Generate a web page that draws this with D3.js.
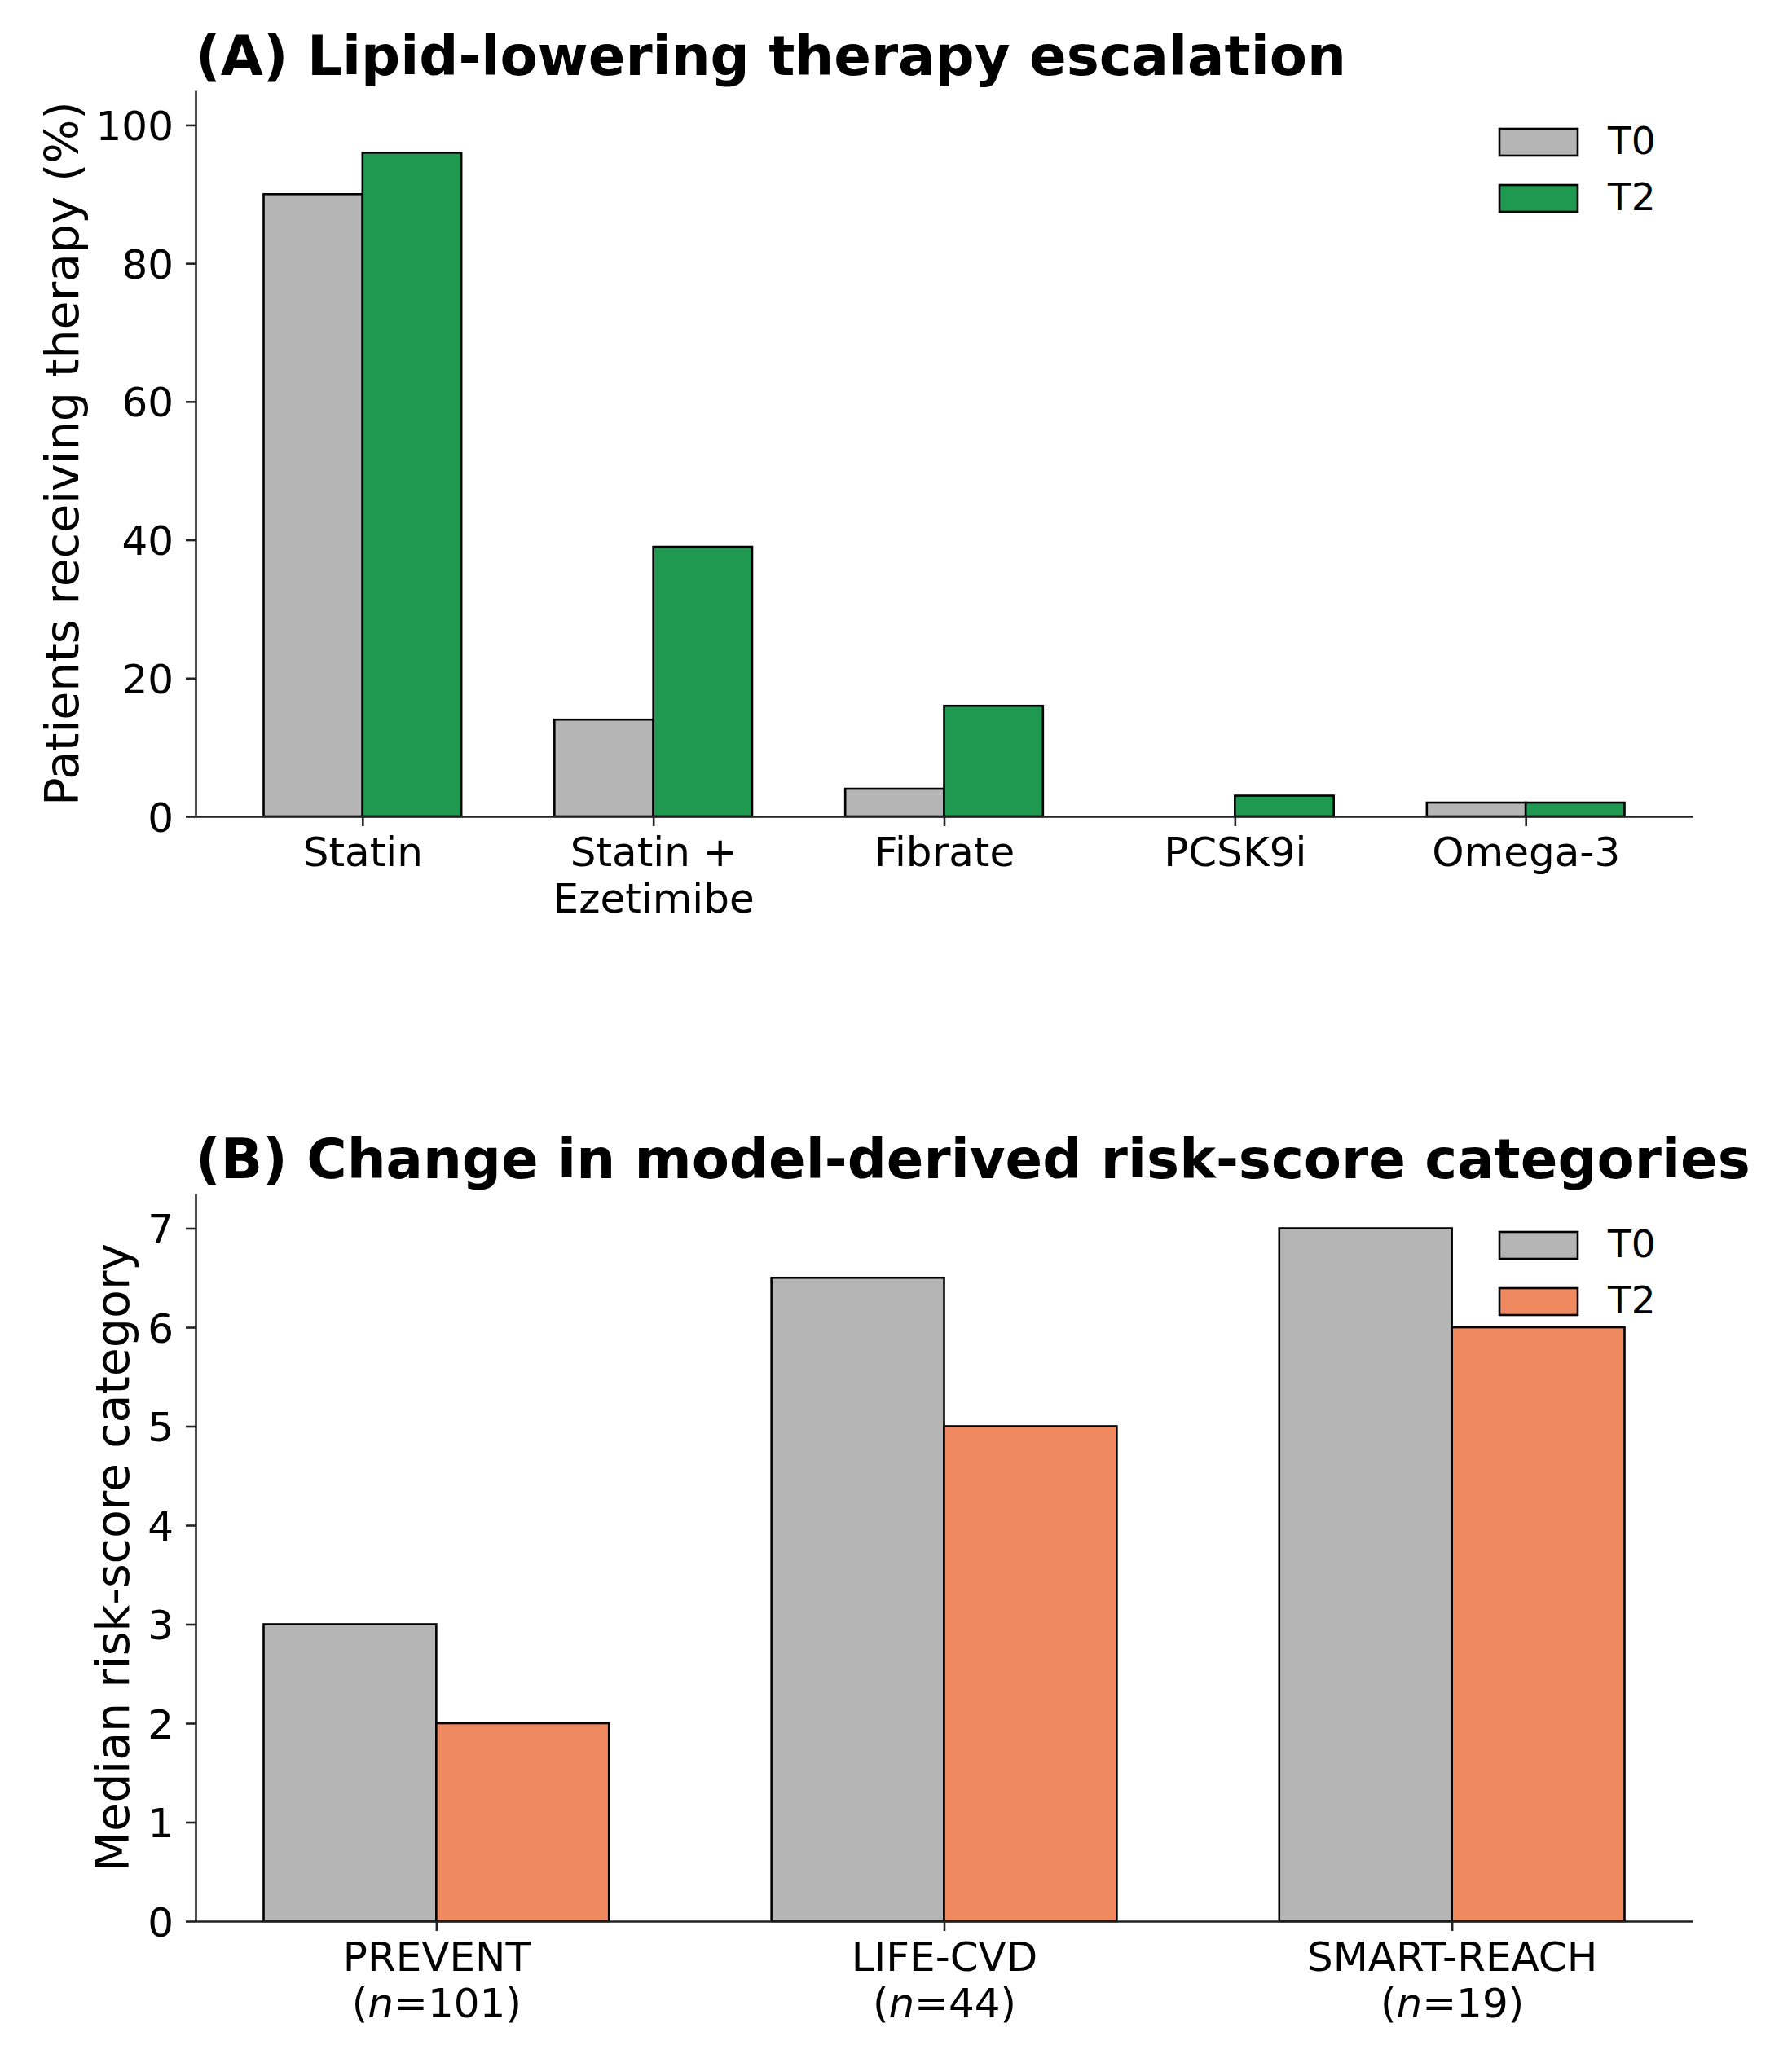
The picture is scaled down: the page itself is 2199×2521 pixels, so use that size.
<!DOCTYPE html>
<html>
<head>
<meta charset="utf-8">
<script src="https://cdn.jsdelivr.net/npm/d3@7"></script>
<style>
  body { margin: 0; background: #fff; }
  text { font-family: "DejaVu Sans", sans-serif; fill: #000; }
</style>
</head>
<body>
<div id="chart"></div>
<script>
const svgWidth = 2199;
const svgHeight = 2521;

// Panel A data: % of patients receiving each therapy
const therapies = ["Statin", "Statin +\nEzetimibe", "Fibrate", "PCSK9i", "Omega-3"];
const therapyT0 = [90, 14, 4, 0, 2];
const therapyT2 = [96, 39, 16, 3, 2];
const therapyTicks = [0, 20, 40, 60, 80, 100];

// Panel B data: median risk-score category
const riskModels = ["PREVENT", "LIFE-CVD", "SMART-REACH"];
const riskN = [101, 44, 19];
const riskT0 = [3, 6.5, 7];
const riskT2 = [2, 5, 6];
const riskTicks = [0, 1, 2, 3, 4, 5, 6, 7];

const seriesNames = ["T0", "T2"];

const grey = "#b5b5b5";
const green = "#1f9850";
const orange = "#ef8a60";

const barWidth = 0.34;
const axLeft = 240, axRight = 2077;

const svg = d3.select("#chart")
    .append("svg")
    .attr("width", svgWidth)
    .attr("height", svgHeight);

function drawPanel(opts) {
    const g = svg.append("g");
    const n = opts.labels.length;

    // matplotlib-ish auto margin on x
    const lo = -barWidth, hi = n - 1 + barWidth;
    const pad = (hi - lo) * 0.05;
    const xScale = d3.scaleLinear()
        .domain([lo - pad, hi + pad])
        .range([axLeft, axRight]);

    const yScale = d3.scaleLinear()
        .domain([0, opts.yMax])
        .range([opts.bottom, opts.top]);

    const bw = xScale(barWidth) - xScale(0);

    // bars
    const rows = opts.t0.map((v, i) => ({i: i, t0: v, t2: opts.t2[i]}));
    g.selectAll(".barT0")
        .data(rows)
        .enter()
        .append("rect")
        .attr("x", d => xScale(d.i) - bw)
        .attr("y", d => yScale(d.t0))
        .attr("width", bw)
        .attr("height", d => yScale(0) - yScale(d.t0))
        .attr("fill", grey)
        .attr("stroke", "#000")
        .attr("stroke-width", 2.6);

    g.selectAll(".barT2")
        .data(rows)
        .enter()
        .append("rect")
        .attr("x", d => xScale(d.i))
        .attr("y", d => yScale(d.t2))
        .attr("width", bw)
        .attr("height", d => yScale(0) - yScale(d.t2))
        .attr("fill", opts.color)
        .attr("stroke", "#000")
        .attr("stroke-width", 2.6);

    // y axis
    const yAxis = g.append("g")
        .attr("transform", `translate(${axLeft}, 0)`)
        .call(d3.axisLeft(yScale).tickValues(opts.yTicks).tickSize(12).tickSizeOuter(0).tickPadding(15));
    yAxis.selectAll("text").style("font-size", "50px").attr("dy", "0.36em");

    // x axis, labels drawn by hand so they can wrap / have italics
    const xAxis = g.append("g")
        .attr("transform", `translate(0, ${opts.bottom})`)
        .call(d3.axisBottom(xScale).tickValues(d3.range(n)).tickSize(12).tickSizeOuter(0).tickFormat(""));

    xAxis.selectAll(".tick").each(function(d) {
        const t = d3.select(this).append("text")
            .attr("text-anchor", "middle")
            .attr("y", 61)
            .style("font-size", "50px");
        opts.lineFn(d).forEach((parts, k) => {
            parts.forEach((part, j) => {
                const ts = t.append("tspan")
                    .text(part.s)
                    .style("font-style", part.it ? "italic" : "normal");
                if (j === 0) ts.attr("x", 0).attr("dy", k === 0 ? 0 : 57);
            });
        });
    });

    [yAxis, xAxis].forEach(a => {
        a.select(".domain").attr("stroke", "#222").attr("stroke-width", 2.6);
        a.selectAll(".tick line").attr("stroke", "#222").attr("stroke-width", 2.6);
    });

    // y label
    g.append("text")
        .attr("transform", `translate(${opts.yLabelX}, ${(opts.top + opts.bottom) / 2}) rotate(-90)`)
        .attr("text-anchor", "middle")
        .style("font-size", "57px")
        .text(opts.yLabel);

    // title
    g.append("text")
        .attr("x", axLeft)
        .attr("y", opts.top - 19)
        .style("font-size", "67.3px")
        .style("font-weight", "bold")
        .text(opts.title);

    // legend
    const legColors = [grey, opts.color];
    const leg = g.append("g")
        .attr("transform", `translate(${axRight - 237}, ${opts.top + 47})`);
    seriesNames.forEach((name, k) => {
        leg.append("rect")
            .attr("x", 0)
            .attr("y", k * 69)
            .attr("width", 96)
            .attr("height", 33)
            .attr("fill", legColors[k])
            .attr("stroke", "#000")
            .attr("stroke-width", 2.6);
        leg.append("text")
            .attr("x", 133)
            .attr("y", k * 69 + 31)
            .style("font-size", "47px")
            .text(name);
    });
}

drawPanel({
    title: "(A) Lipid-lowering therapy escalation",
    yLabel: "Patients receiving therapy (%)",
    labels: therapies,
    t0: therapyT0,
    t2: therapyT2,
    yTicks: therapyTicks,
    yMax: 105,
    top: 111,
    bottom: 1002,
    color: green,
    yLabelX: 96,
    lineFn: d => therapies[d].split("\n").map(s => [{s: s}])
});

drawPanel({
    title: "(B) Change in model-derived risk-score categories",
    yLabel: "Median risk-score category",
    labels: riskModels,
    t0: riskT0,
    t2: riskT2,
    yTicks: riskTicks,
    yMax: d3.max(riskT0.concat(riskT2)) * 1.05,
    top: 1465,
    bottom: 2358,
    color: orange,
    yLabelX: 158,
    lineFn: d => [[{s: riskModels[d]}], [{s: "("}, {s: "n", it: true}, {s: "=" + riskN[d] + ")"}]]
});
</script>
</body>
</html>
